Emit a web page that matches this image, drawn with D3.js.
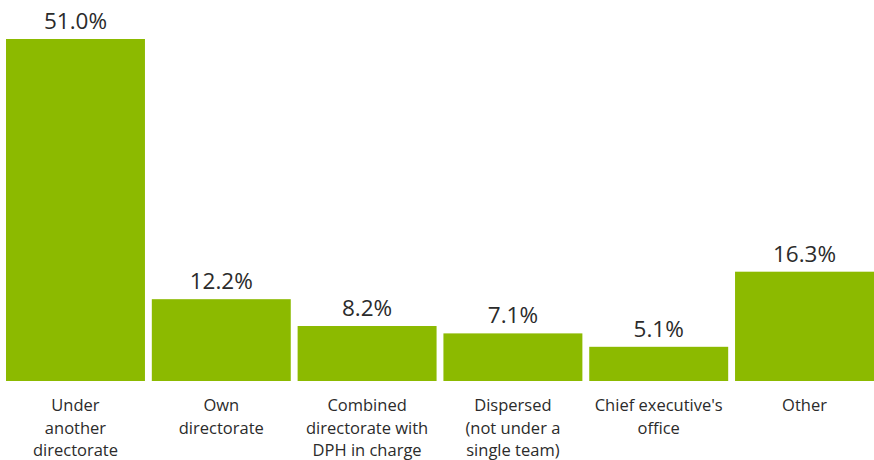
<!DOCTYPE html>
<html>
<head>
<meta charset="utf-8">
<script src="https://cdn.jsdelivr.net/npm/d3@7"></script>
<style>
  body { margin: 0; background: #fff; }
  svg { display: block; font-family: "Open Sans", "Noto Sans", sans-serif; }
</style>
</head>
<body>
<svg id="chart"></svg>
<script>
// data
const categories = ["Under another directorate", "Own directorate", "Combined directorate with DPH in charge",
  "Dispersed (not under a single team)", "Chief executive's office", "Other"];
const labelLines = [
  ["Under", "another", "directorate"],
  ["Own", "directorate"],
  ["Combined", "directorate with", "DPH in charge"],
  ["Dispersed", "(not under a", "single team)"],
  ["Chief executive's", "office"],
  ["Other"]
];
const values = [51.0, 12.2, 8.2, 7.1, 5.1, 16.3];

const width = 874, height = 460;
const svg = d3.select("#chart").attr("width", width).attr("height", height);

const x = d3.scaleBand()
  .domain(categories)
  .range([6, 874])
  .paddingInner(0.047)
  .paddingOuter(0);

const y = d3.scaleLinear().domain([0, 51]).range([381, 39]);

svg.selectAll(".bar")
  .data(values)
  .enter()
  .append("rect")
  .attr("class", "bar")
  .attr("x", (d, i) => x(categories[i]))
  .attr("width", x.bandwidth())
  .attr("y", d => y(d))
  .attr("height", d => y(0) - y(d))
  .attr("fill", "#8cba00");

svg.selectAll(".val")
  .data(values)
  .enter()
  .append("text")
  .attr("class", "val")
  .attr("x", (d, i) => x(categories[i]) + x.bandwidth() / 2)
  .attr("y", d => y(d) - 10)
  .attr("text-anchor", "middle")
  .attr("font-size", 22.5)
  .attr("fill", "#2b2b2b")
  .text(d => d.toFixed(1) + "%");

const cats = svg.selectAll(".cat")
  .data(labelLines)
  .enter()
  .append("text")
  .attr("class", "cat")
  .attr("text-anchor", "middle")
  .attr("font-size", 16.5)
  .attr("fill", "#2b2b2b");

cats.each(function (lines, i) {
  const cx = x(categories[i]) + x.bandwidth() / 2;
  d3.select(this).selectAll("tspan")
    .data(lines)
    .enter()
    .append("tspan")
    .attr("x", cx)
    .attr("y", (d, j) => 411 + j * 22.5)
    .text(d => d);
});
</script>
</body>
</html>
